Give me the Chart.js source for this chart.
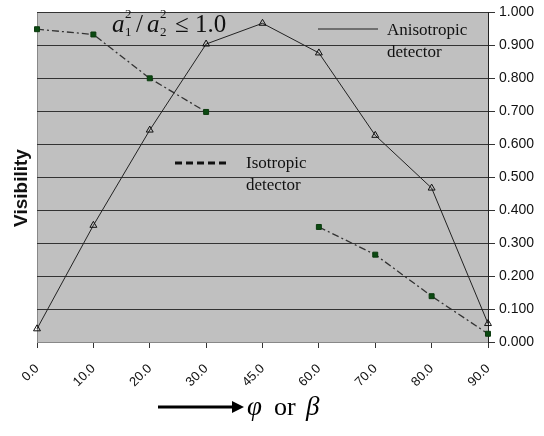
<!DOCTYPE html>
<html>
<head>
<meta charset="utf-8">
<script src="https://cdn.jsdelivr.net/npm/chart.js@4"></script>
<style>
  html, body { margin: 0; padding: 0; background: #fff; }
  #wrap { width: 544px; height: 436px; }
</style>
</head>
<body>
<div id="wrap"><canvas id="visChart"></canvas></div>
<script>
const angles = ["0.0", "10.0", "20.0", "30.0", "45.0", "60.0", "70.0", "80.0", "90.0"];
const anisotropic = [0.04, 0.354, 0.643, 0.904, 0.967, 0.877, 0.627, 0.467, 0.056];
const isotropic = [0.949, 0.933, 0.800, 0.698, null, 0.349, 0.265, 0.139, 0.025];
const yTicks = [0, 0.1, 0.2, 0.3, 0.4, 0.5, 0.6, 0.7, 0.8, 0.9, 1.0];

// gray plot background + hand drawn annotations
const decor = {
  id: "decor",
  beforeDraw(chart) {
    const { ctx, chartArea: a } = chart;
    ctx.save();
    ctx.fillStyle = "#c0c0c0";
    ctx.fillRect(a.left, a.top, a.right - a.left, a.bottom - a.top);
    ctx.strokeStyle = "#888";
    ctx.lineWidth = 1;
    ctx.beginPath();
    ctx.moveTo(a.left + 0.5, a.top);
    ctx.lineTo(a.left + 0.5, a.bottom);
    ctx.stroke();
    ctx.restore();
  },
  afterDraw(chart) {
    const { ctx } = chart;
    ctx.save();
    ctx.fillStyle = "#111";
    ctx.textBaseline = "alphabetic";

    // y title
    ctx.save();
    ctx.translate(27, 188);
    ctx.rotate(-Math.PI / 2);
    ctx.font = "bold 19px 'Liberation Sans', Arial, sans-serif";
    ctx.textAlign = "center";
    ctx.fillText("Visibility", 0, 0);
    ctx.restore();

    // a1^2 / a2^2 <= 1.0
    const big = "italic 25px 'Liberation Serif', 'Times New Roman', serif";
    const small = "13px 'Liberation Serif', 'Times New Roman', serif";
    ctx.font = big;
    ctx.fillText("a", 112, 32);
    ctx.font = small;
    ctx.fillText("2", 125, 18);
    ctx.fillText("1", 125, 36);
    ctx.font = "25px 'Liberation Serif', serif";
    ctx.fillText("/", 136, 32);
    ctx.font = big;
    ctx.fillText("a", 147, 32);
    ctx.font = small;
    ctx.fillText("2", 160, 18);
    ctx.fillText("2", 160, 36);
    ctx.font = "25px 'Liberation Serif', serif";
    ctx.fillText("\u2264 1.0", 175, 32);

    // legend: anisotropic
    ctx.strokeStyle = "#555";
    ctx.lineWidth = 1.5;
    ctx.beginPath();
    ctx.moveTo(318, 29);
    ctx.lineTo(378, 29);
    ctx.stroke();
    ctx.font = "17px 'Liberation Serif', 'Times New Roman', serif";
    ctx.fillText("Anisotropic", 387, 35);
    ctx.fillText("detector", 387, 57);

    // legend: isotropic
    ctx.strokeStyle = "#111";
    ctx.lineWidth = 3;
    ctx.setLineDash([7, 4]);
    ctx.beginPath();
    ctx.moveTo(175, 163);
    ctx.lineTo(230, 163);
    ctx.stroke();
    ctx.setLineDash([]);
    ctx.fillText("Isotropic", 246, 168);
    ctx.fillText("detector", 246, 190);

    // x title: arrow + phi or beta
    ctx.strokeStyle = "#000";
    ctx.lineWidth = 3;
    ctx.beginPath();
    ctx.moveTo(158, 407);
    ctx.lineTo(234, 407);
    ctx.stroke();
    ctx.fillStyle = "#000";
    ctx.beginPath();
    ctx.moveTo(244, 407);
    ctx.lineTo(232, 401);
    ctx.lineTo(232, 413);
    ctx.closePath();
    ctx.fill();
    ctx.font = "italic 27px 'Liberation Serif', 'Times New Roman', serif";
    ctx.fillText("\u03C6", 247, 415);
    ctx.font = "26px 'Liberation Serif', 'Times New Roman', serif";
    ctx.fillText("or", 274, 415);
    ctx.font = "italic 27px 'Liberation Serif', 'Times New Roman', serif";
    ctx.fillText("\u03B2", 306, 415);
    ctx.restore();
  }
};

new Chart(document.getElementById("visChart"), {
  type: "line",
  data: {
    labels: angles,
    datasets: [
      {
        label: "Anisotropic detector",
        data: anisotropic,
        borderColor: "#222",
        borderWidth: 1,
        pointStyle: "triangle",
        pointRadius: 4,
        pointBackgroundColor: "rgba(0,0,0,0)",
        pointBorderColor: "#111",
        pointBorderWidth: 1,
        tension: 0
      },
      {
        label: "Isotropic detector",
        data: isotropic,
        borderColor: "#333",
        borderWidth: 1.3,
        borderDash: [7, 3, 2, 3],
        pointStyle: "rect",
        pointRadius: 3.5,
        pointBackgroundColor: "#0b4a12",
        pointBorderColor: "#0b3a0e",
        pointBorderWidth: 1,
        spanGaps: false,
        tension: 0
      }
    ]
  },
  options: {
    responsive: true,
    maintainAspectRatio: false,
    animation: false,
    layout: { padding: { left: 37, top: 11, right: 0, bottom: 0 } },
    plugins: {
      legend: { display: false },
      tooltip: { enabled: false }
    },
    scales: {
      x: {
        offset: false,
        afterFit: (s) => { s.height = 94; },
        grid: { display: true, drawOnChartArea: false, drawTicks: true, tickLength: 6, color: "#333" },
        border: { display: true, color: "#888", width: 1 },
        ticks: {
          autoSkip: false,
          minRotation: 45,
          maxRotation: 45,
          padding: 13,
          color: "#111",
          font: { family: "'Liberation Sans', Arial, sans-serif", size: 13 }
        }
      },
      y: {
        position: "right",
        min: 0,
        max: 1,
        afterFit: (s) => { s.width = 56; },
        afterBuildTicks: (s) => { s.ticks = yTicks.map((v) => ({ value: v })); },
        grid: { color: "#333", lineWidth: 1, drawTicks: true, tickLength: 7 },
        border: { display: true, color: "#222", width: 1 },
        ticks: {
          padding: 4,
          color: "#111",
          font: { family: "'Liberation Sans', Arial, sans-serif", size: 14 },
          callback: (v) => Number(v).toFixed(3)
        }
      }
    }
  },
  plugins: [decor]
});
</script>
</body>
</html>
